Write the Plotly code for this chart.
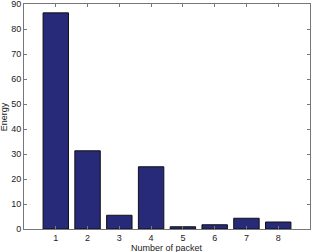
import plotly.graph_objects as go

categories = [1, 2, 3, 4, 5, 6, 7, 8]
energy = [86.5, 31.3, 5.5, 24.9, 0.9, 1.7, 4.3, 2.8]
x_ticks = [1, 2, 3, 4, 5, 6, 7, 8]
y_ticks = [0, 10, 20, 30, 40, 50, 60, 70, 80, 90]

fig = go.Figure()
fig.add_trace(go.Bar(
    x=categories, y=energy, width=0.8,
    marker=dict(color="#262a78", line=dict(color="#111111", width=1)),
))

font = dict(family="Liberation Sans, Arial", size=9, color="#222222")
axis_common = dict(
    showline=True, linecolor="#777777", linewidth=1, mirror="ticks",
    ticks="inside", ticklen=3, tickcolor="#777777",
    showgrid=False, zeroline=False, automargin=False,
    ticklabeloverflow="allow", tickfont=font,
)

fig.update_layout(
    width=312, height=252,
    margin=dict(l=24, r=2, t=4, b=23),
    paper_bgcolor="white", plot_bgcolor="white",
    showlegend=False,
    bargap=0.2,
    xaxis=dict(range=[0, 9], tickvals=x_ticks, **axis_common),
    yaxis=dict(range=[0, 90.05], tickvals=y_ticks, **axis_common),
    annotations=[
        dict(text="Number of packet", xref="paper", yref="paper", x=0.5, y=-0.083,
             xanchor="center", yanchor="middle", showarrow=False, font=font),
        dict(text="Energy", xref="paper", yref="paper", x=-0.071, y=0.5, textangle=-90,
             xanchor="center", yanchor="middle", showarrow=False, font=font),
    ],
)

fig.write_html("out.html")
